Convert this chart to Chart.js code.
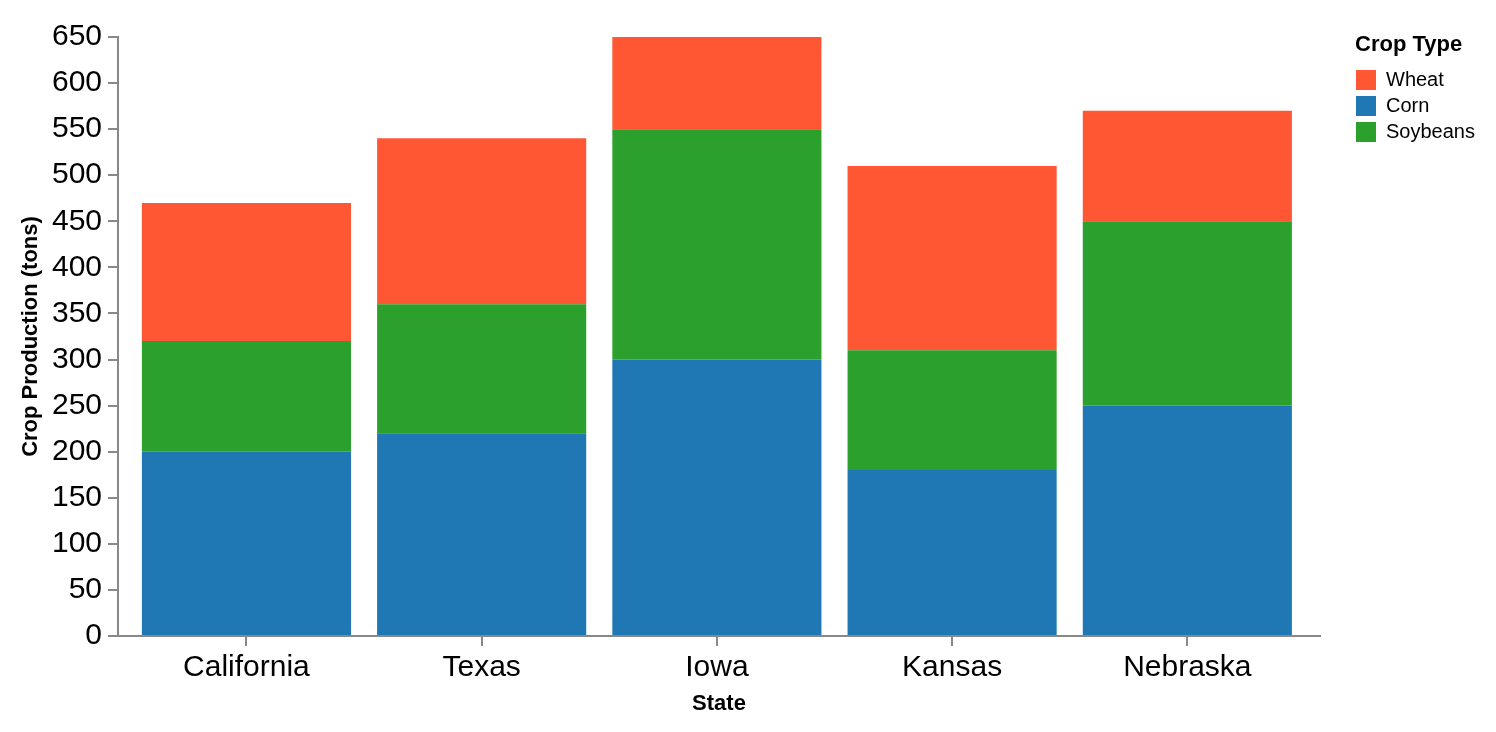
<!DOCTYPE html>
<html>
<head>
<meta charset="utf-8">
<script src="https://cdn.jsdelivr.net/npm/chart.js@4"></script>
<style>
    html, body { margin: 0; padding: 0; background: #fff; }
    #wrap { width: 1496px; height: 732px; }
</style>
</head>
<body>
<div id="wrap"><canvas id="myChart"></canvas></div>
<script>
/*
    Stacked bar chart: crop production by state
*/

const states = ['California', 'Texas', 'Iowa', 'Kansas', 'Nebraska'];   // x-axis categories
const corn = [200, 220, 300, 180, 250];         // bottom of each stack
const soybeans = [120, 140, 250, 130, 200];     // middle
const wheat = [150, 180, 100, 200, 120];        // top
const legendOrder = ['Wheat', 'Corn', 'Soybeans'];
const yMin = 0;
const yMax = 650;
const yStep = 50;

const fontFamily = "'Liberation Sans', Arial, Helvetica, sans-serif";
Chart.defaults.font.family = fontFamily;
Chart.defaults.color = '#000';

// legend drawn by hand so it sits where the original one does
const cropLegend = {
    id: 'cropLegend',
    afterDraw(chart, args, opts) {
        const ctx = chart.ctx;
        ctx.save();
        ctx.textBaseline = 'middle';
        ctx.textAlign = 'left';
        ctx.fillStyle = '#000';
        ctx.font = `bold 22px ${fontFamily}`;
        ctx.fillText(opts.title, opts.x - 1, opts.y);
        ctx.font = `20px ${fontFamily}`;
        legendOrder.forEach((name, i) => {
            const ds = chart.data.datasets.find(d => d.label === name);
            const top = opts.y + 25.5 + i * 26;
            ctx.fillStyle = ds.backgroundColor;
            ctx.fillRect(opts.x, top, 20, 20);
            ctx.fillStyle = '#000';
            ctx.fillText(name, opts.x + 30, top + 10);
        });
        ctx.restore();
    }
};

function createChart(){
    const ctx = document.getElementById('myChart');
    const axisGray = '#888';
    new Chart(ctx, {
        type: 'bar',
        data: {
            labels: states,
            datasets: [
                { label: 'Corn', data: corn, backgroundColor: '#1f77b4' },
                { label: 'Soybeans', data: soybeans, backgroundColor: '#2ca02c' },
                { label: 'Wheat', data: wheat, backgroundColor: '#ff5733' }
            ]
        },
        options: {
            responsive: true,
            maintainAspectRatio: false,
            animation: false,
            barPercentage: 0.889,
            categoryPercentage: 1.0,
            layout: {
                padding: { top: 37, left: 0, right: 176, bottom: 15 }
            },
            scales: {
                x: {
                    stacked: true,
                    offset: false,
                    grid: {
                        display: true,
                        drawOnChartArea: false,
                        offset: false,
                        color: axisGray,
                        lineWidth: 2,
                        tickLength: 10
                    },
                    border: { color: axisGray, width: 2 },
                    ticks: {
                        font: { size: 30 },
                        padding: 4,
                        maxRotation: 0
                    },
                    title: {
                        display: true,
                        text: 'State',
                        font: { size: 22, weight: 'bold' },
                        padding: { top: 0, bottom: 0 }
                    },
                    // leave some outer padding around the bands, like a band scale
                    afterBuildTicks(scale) {
                        scale._startValue = -0.546;
                        scale._valueRange = 5.11;
                    },
                    afterFit(scale) { scale.height = 81; }
                },
                y: {
                    stacked: true,
                    min: yMin,
                    max: yMax,
                    grid: {
                        display: true,
                        drawOnChartArea: false,
                        color: axisGray,
                        lineWidth: 2,
                        tickLength: 10
                    },
                    border: { color: axisGray, width: 2 },
                    ticks: {
                        stepSize: yStep,
                        font: { size: 30 },
                        padding: 6
                    },
                    title: {
                        display: true,
                        text: 'Crop Production (tons)',
                        font: { size: 22, weight: 'bold' },
                        padding: { top: 18, bottom: 0 }
                    },
                    afterFit(scale) { scale.width = 118; }
                }
            },
            plugins: {
                legend: { display: false },
                tooltip: { enabled: false },
                cropLegend: { title: 'Crop Type', x: 1356, y: 44.5 }
            }
        },
        plugins: [cropLegend]
    });
}

createChart();
</script>
</body>
</html>
